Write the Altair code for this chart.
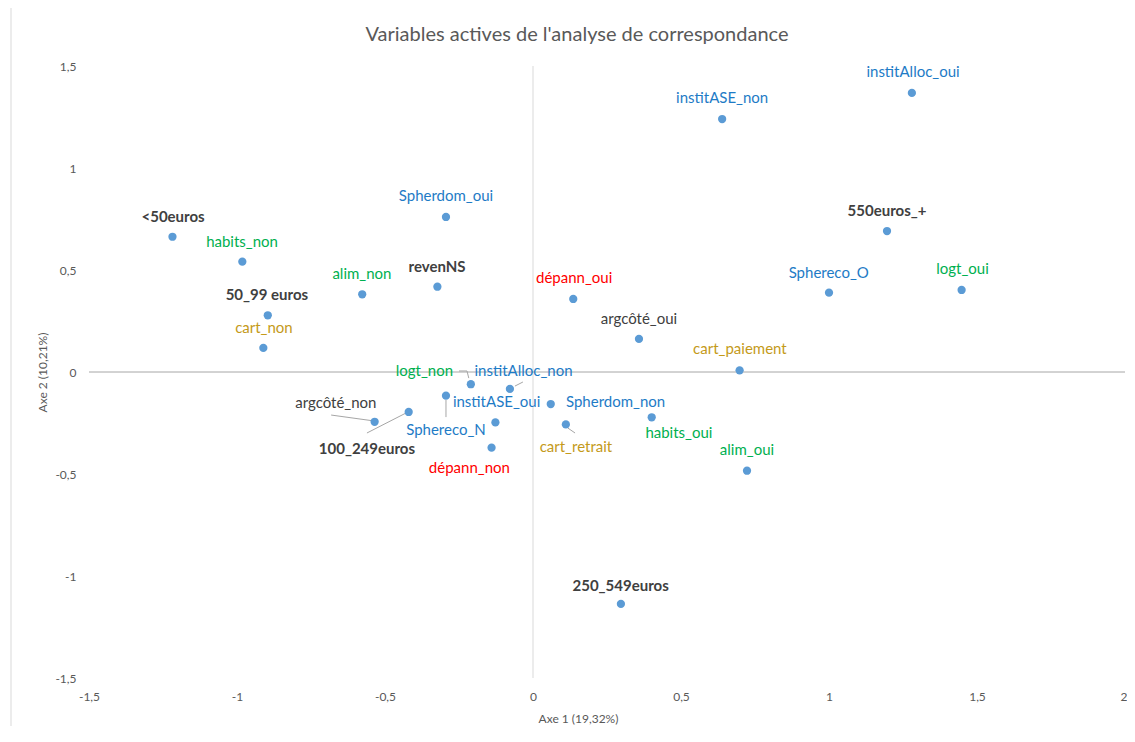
import altair as alt
import pandas as pd

# ---- data ----
LABELS = ["institAlloc_oui", "institASE_non", "Spherdom_oui", "<50euros", "550euros_+",
          "habits_non", "alim_non", "revenNS", "dépann_oui", "Sphereco_O", "logt_oui",
          "50_99 euros", "argcôté_oui", "cart_non", "cart_paiement", "logt_non",
          "institAlloc_non", "Sphereco_N", "100_249euros", "argcôté_non", "institASE_oui",
          "Spherdom_non", "habits_oui", "cart_retrait", "dépann_non", "alim_oui", "250_549euros"]
AXE1 = [1.280, 0.639, -0.294, -1.218, 1.196, -0.982, -0.577, -0.323, 0.136, 1.000, 1.448,
        -0.896, 0.358, -0.911, 0.698, -0.210, -0.078, -0.294, -0.420, -0.535, -0.127,
        0.060, 0.401, 0.111, -0.140, 0.723, 0.297]
AXE2 = [1.368, 1.240, 0.760, 0.663, 0.691, 0.541, 0.381, 0.418, 0.358, 0.389, 0.402,
        0.278, 0.162, 0.118, 0.008, -0.060, -0.083, -0.116, -0.196, -0.244, -0.247,
        -0.157, -0.222, -0.257, -0.371, -0.484, -1.137]
GROUP = ["aide", "aide", "aide", "revenu", "revenu", "besoin", "besoin", "revenu", "depann",
         "aide", "besoin", "revenu", "argcote", "carte", "carte", "besoin", "aide", "aide",
         "revenu", "argcote", "aide", "aide", "besoin", "carte", "depann", "besoin", "revenu"]

# label anchor positions (in axis units)
LABEL_AXE1 = [1.284, 0.639, -0.294, -1.216, 1.196, -0.983, -0.578, -0.324, 0.139, 0.999, 1.451,
              -0.899, 0.358, -0.909, 0.699, -0.367, -0.032, -0.294, -0.561, -0.666, -0.123,
              0.279, 0.493, 0.145, -0.215, 0.723, 0.296]
LABEL_AXE2 = [1.471, 1.343, 0.863, 0.761, 0.789, 0.636, 0.479, 0.515, 0.459, 0.487, 0.505,
              0.377, 0.260, 0.217, 0.111, 0.005, 0.005, -0.284, -0.377, -0.154, -0.149,
              -0.149, -0.301, -0.366, -0.469, -0.382, -1.049]

# leader lines (axis units)
LEAD_X1 = [-0.250, -0.223, -0.061, -0.294, -0.561, -0.682, 0.118]
LEAD_Y1 = [0.005, 0.005, -0.069, -0.137, -0.299, -0.211, -0.275]
LEAD_X2 = [-0.223, -0.217, -0.034, -0.294, -0.429, -0.547, 0.142]
LEAD_Y2 = [0.005, -0.030, -0.049, -0.221, -0.201, -0.238, -0.299]

X_TICKS = [-1.5, -1, -0.5, 0, 0.5, 1, 1.5, 2]
Y_TICKS = [-1.5, -1, -0.5, 0, 0.5, 1, 1.5]

GROUP_DOMAIN = ["aide", "besoin", "depann", "carte", "revenu", "argcote"]
GROUP_COLORS = ["#1E7BC6", "#00B050", "#FF0000", "#C49A1A", "#404040", "#404040"]
BOLD_GROUPS = ["revenu"]

FONT = "Lato"
W, H = 1036, 612

df = pd.DataFrame({"label": LABELS, "x": AXE1, "y": AXE2, "group": GROUP,
                   "lx": LABEL_AXE1, "ly": LABEL_AXE2})
df["weight"] = ["bold" if g in BOLD_GROUPS else "normal" for g in GROUP]
lead = pd.DataFrame({"x": LEAD_X1, "y": LEAD_Y1, "x2": LEAD_X2, "y2": LEAD_Y2})

lab_expr = "(datum.value < 0 ? '-' : '') + replace(toString(abs(datum.value)), '.', ',')"

xscale = alt.Scale(domain=[-1.5, 2], nice=False, zero=False)
yscale = alt.Scale(domain=[-1.5, 1.5], nice=False, zero=False)

xaxis = alt.Axis(values=X_TICKS, grid=False, domain=False, ticks=False, tickSize=0,
                 labelPadding=13, labelExpr=lab_expr, labelFont=FONT, labelFontSize=12,
                 labelColor="#595959", labelFlush=False, labelOverlap=False,
                 labelAlign={"condition": {"test": "datum.value == 2", "value": "right"},
                             "value": "center"},
                 labelOffset={"condition": {"test": "datum.value == 2", "value": 2},
                              "value": 0},
                 title="Axe 1 (19,32%)", titleFont=FONT,
                 titleFontSize=12, titleFontWeight="normal", titleColor="#595959",
                 titleX=489, titleY=40, titleBaseline="middle", titleAlign="center")
yaxis = alt.Axis(values=Y_TICKS, grid=False, domain=False, ticks=False, tickSize=0,
                 labelPadding=13, labelExpr=lab_expr, labelFont=FONT, labelFontSize=12,
                 labelColor="#595959", labelFlush=False, labelOverlap=False,
                 title="Axe 2 (10,21%)", titleFont=FONT,
                 titleFontSize=12, titleFontWeight="normal", titleColor="#595959",
                 titleX=-47, titleY=306, titleBaseline="middle", titleAlign="center",
                 titleAngle=-90)

base = alt.Chart(df)

points = base.mark_circle(size=68, opacity=1, color="#5B9BD5").encode(
    x=alt.X("x:Q", scale=xscale, axis=xaxis),
    y=alt.Y("y:Q", scale=yscale, axis=yaxis),
)

zero_v = alt.Chart(pd.DataFrame({"x": [0]})).mark_rule(color="#D9D9D9", strokeWidth=1).encode(
    x=alt.X("x:Q", scale=xscale))
zero_h = alt.Chart(pd.DataFrame({"y": [0]})).mark_rule(color="#A6A6A6", strokeWidth=1).encode(
    y=alt.Y("y:Q", scale=yscale))

leaders = alt.Chart(lead).mark_rule(color="#A6A6A6", strokeWidth=1).encode(
    x=alt.X("x:Q", scale=xscale), y=alt.Y("y:Q", scale=yscale),
    x2="x2:Q", y2="y2:Q")

color_enc = alt.Color("group:N", scale=alt.Scale(domain=GROUP_DOMAIN, range=GROUP_COLORS),
                      legend=None)

labels_normal = base.transform_filter(alt.datum.weight == "normal").mark_text(
    font=FONT, fontSize=15, align="center", baseline="middle").encode(
    x=alt.X("lx:Q", scale=xscale), y=alt.Y("ly:Q", scale=yscale),
    text="label:N", color=color_enc)
labels_bold = base.transform_filter(alt.datum.weight == "bold").mark_text(
    font=FONT, fontSize=15, fontWeight="bold", align="center", baseline="middle").encode(
    x=alt.X("lx:Q", scale=xscale), y=alt.Y("ly:Q", scale=yscale),
    text="label:N", color=color_enc)

title = alt.Chart(pd.DataFrame({"t": ["Variables actives de l'analyse de correspondance"]})).mark_text(
    font=FONT, fontSize=20, color="#595959", align="center", baseline="middle").encode(
    text="t:N", x=alt.value(488), y=alt.value(-31))

frame_l = alt.Chart(pd.DataFrame({"a": [0]})).mark_rule(color="#D9D9D9").encode(
    x=alt.value(-78), y=alt.value(-59), y2=alt.value(700))
frame_t = alt.Chart(pd.DataFrame({"a": [0]})).mark_rule(color="#D9D9D9").encode(
    x=alt.value(-78), x2=alt.value(1060), y=alt.value(-59))

chart = alt.layer(frame_l, frame_t, zero_v, zero_h, leaders, points, labels_normal,
                  labels_bold, title).properties(
    width=W, height=H,
    autosize=alt.AutoSizeParams(type="none"),
    padding={"left": 81, "top": 58, "right": 2, "bottom": 48},
).configure(background="white").configure_view(strokeWidth=0, stroke="transparent")

chart.save("out.html", embed_options={"renderer": "svg", "actions": False})
